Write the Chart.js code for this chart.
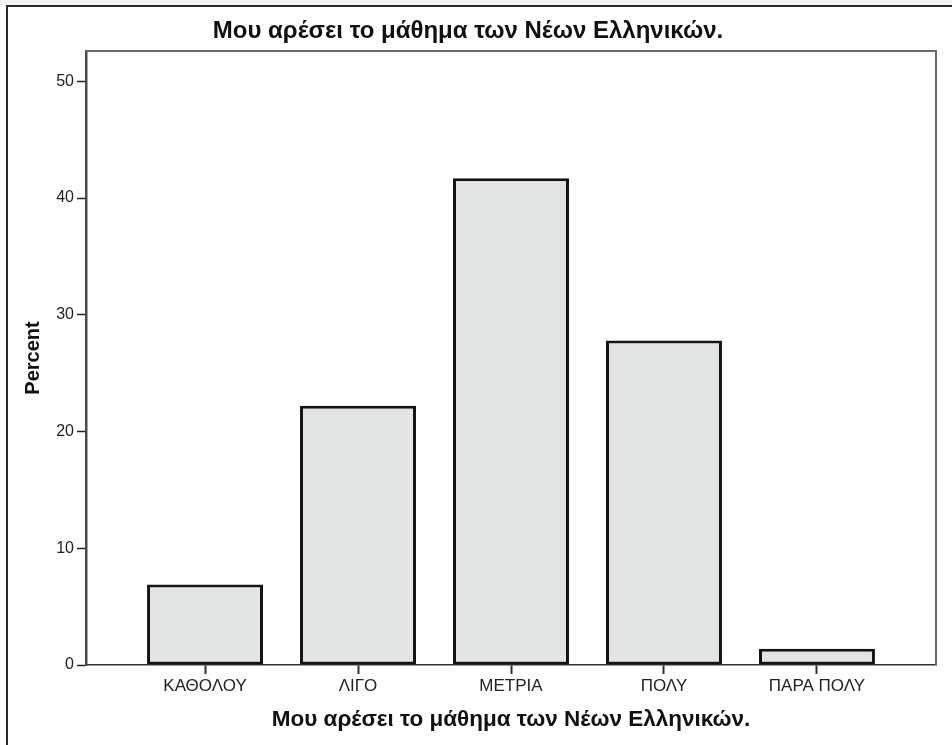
<!DOCTYPE html>
<html>
<head>
<meta charset="utf-8">
<script src="https://cdn.jsdelivr.net/npm/chart.js@4"></script>
<style>
  html, body { margin: 0; padding: 0; background: #ffffff; }
  #wrap { width: 952px; height: 745px; position: relative; }
</style>
</head>
<body>
<div id="wrap"><canvas id="c" width="952" height="745"></canvas></div>
<script>
const chartTitle = "Μου αρέσει το μάθημα των Νέων Ελληνικών.";
const xAxisTitle = "Μου αρέσει το μάθημα των Νέων Ελληνικών.";
const yAxisTitle = "Percent";
const categories = ["ΚΑΘΟΛΟΥ", "ΛΙΓΟ", "ΜΕΤΡΙΑ", "ΠΟΛΥ", "ΠΑΡΑ ΠΟΛΥ"];
const percents = [6.9, 22.2, 41.7, 27.8, 1.4];
const yTicks = [0, 10, 20, 30, 40, 50];

const framePlugin = {
  id: 'frame',
  beforeDraw(chart) {
    const ctx = chart.ctx;
    ctx.save();
    ctx.fillStyle = '#ffffff';
    ctx.fillRect(0, 0, chart.width, chart.height);
    ctx.fillStyle = '#f3f3f3';
    ctx.fillRect(0, 0, chart.width, 5);
    ctx.strokeStyle = '#2b2b2b';
    ctx.lineWidth = 2;
    ctx.beginPath();
    ctx.moveTo(7, chart.height + 2);
    ctx.lineTo(7, 6);
    ctx.lineTo(chart.width + 2, 6);
    ctx.stroke();
    ctx.restore();
  },
  afterDatasetsDraw(chart) {
    const a = chart.chartArea;
    const ctx = chart.ctx;
    ctx.save();
    ctx.strokeStyle = '#6a6a6a';
    ctx.lineWidth = 2;
    ctx.beginPath();
    ctx.moveTo(a.left, a.top);
    ctx.lineTo(a.right, a.top);
    ctx.lineTo(a.right, a.bottom);
    ctx.stroke();
    ctx.restore();
  }
};

new Chart(document.getElementById('c'), {
  type: 'bar',
  data: {
    datasets: [{
      data: percents.map((v, i) => ({ x: i, y: v })),
      backgroundColor: '#e3e5e4',
      borderColor: '#141414',
      borderWidth: 3,
      borderSkipped: false,
      barPercentage: 0.758,
      categoryPercentage: 1.0
    }]
  },
  options: {
    responsive: false,
    animation: false,
    layout: { padding: { left: 0, top: 0, right: 16, bottom: 0 } },
    plugins: {
      legend: { display: false },
      tooltip: { enabled: false },
      title: {
        display: true,
        text: chartTitle,
        color: '#111',
        font: { family: "'Liberation Sans', Arial, sans-serif", size: 24, weight: 'bold' },
        padding: { top: 16.6, bottom: 5.6 }
      }
    },
    scales: {
      x: {
        type: 'linear',
        min: -0.778,
        max: 4.778,
        offset: false,
        afterFit(scale) { scale.height = 80; },
        afterBuildTicks(scale) { scale.ticks = categories.map((_, i) => ({ value: i })); },
        ticks: {
          autoSkip: false,
          maxRotation: 0,
          padding: 2,
          color: '#222',
          font: { family: "'Liberation Sans', Arial, sans-serif", size: 17 },
          callback: (v) => categories[Math.round(v)]
        },
        grid: { offset: false, drawOnChartArea: false, drawTicks: true, tickLength: 9, tickColor: '#333', tickWidth: 2 },
        border: { display: true, color: '#333', width: 1.5 },
        title: {
          display: true,
          text: xAxisTitle,
          color: '#111',
          font: { family: "'Liberation Sans', Arial, sans-serif", size: 22.5, weight: 'bold' },
          padding: { top: 0, bottom: 11.5 }
        }
      },
      y: {
        min: 0,
        max: 52.6,
        afterFit(scale) { scale.width = 86; },
        afterBuildTicks(scale) { scale.ticks = yTicks.map(v => ({ value: v })); },
        ticks: {
          padding: 3,
          color: '#222',
          font: { family: "'Liberation Sans', Arial, sans-serif", size: 16 }
        },
        grid: { drawOnChartArea: false, drawTicks: true, tickLength: 9, tickColor: '#222', tickWidth: 1.5 },
        border: { display: true, color: '#4a4a4a', width: 2.5 },
        title: {
          display: true,
          text: yAxisTitle,
          color: '#111',
          font: { family: "'Liberation Sans', Arial, sans-serif", size: 20, weight: 'bold' },
          padding: { top: 21, bottom: 0 }
        }
      }
    }
  },
  plugins: [framePlugin]
});
</script>
</body>
</html>
